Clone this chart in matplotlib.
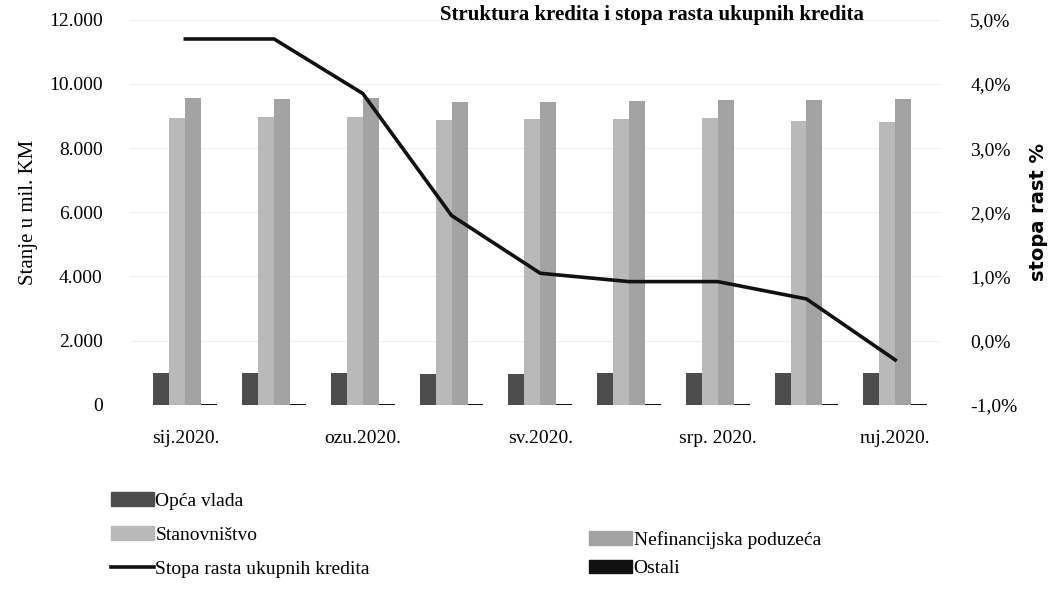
import matplotlib

matplotlib.use('Agg')
import matplotlib.pyplot as plt
from matplotlib.patches import Patch
from matplotlib.lines import Line2D
import numpy as np

plt.rcParams['font.family'] = ['Liberation Serif', 'DejaVu Serif']

months = ['sij.2020.', 'velj.2020.', 'ozu.2020.', 'tra.2020.', 'sv.2020.',
          'lip.2020.', 'srp. 2020.', 'kol.2020.', 'ruj.2020.']
shown_ticks = [0, 2, 4, 6, 8]

opca_vlada = [980, 990, 1000, 960, 970, 990, 1000, 1000, 1000]
stanovnistvo = [8950, 8960, 8980, 8880, 8900, 8910, 8950, 8850, 8800]
nefinancijska = [9550, 9530, 9550, 9430, 9450, 9460, 9500, 9500, 9530]
ostali = [40, 40, 40, 40, 40, 40, 40, 40, 40]
stopa_rasta = [4.7, 4.7, 3.85, 1.95, 1.05, 0.92, 0.92, 0.65, -0.3]

fig = plt.figure(figsize=(10.51, 5.98), dpi=100)
ax = fig.add_axes([0.124, 0.323, 0.77, 0.644])

x = np.arange(len(months))
w = 0.18
c_vlada = '#4d4d4d'
c_stan = '#b9b9b9'
c_nef = '#a3a3a3'
c_ost = '#111111'

ax.bar(x - 1.5 * w, opca_vlada, w, color=c_vlada)
ax.bar(x - 0.5 * w, stanovnistvo, w, color=c_stan)
ax.bar(x + 0.5 * w, nefinancijska, w, color=c_nef)
ax.bar(x + 1.5 * w, ostali, w, color=c_ost)

ax.set_ylim(0, 12000)
ax.set_xlim(-0.62, 8.5)
ax.set_yticks(range(0, 12001, 2000))
ax.set_yticklabels(['0', '2.000', '4.000', '6.000', '8.000', '10.000', '12.000'], fontsize=14)
ax.set_xticks(shown_ticks)
ax.set_xticklabels([months[i] for i in shown_ticks], fontsize=14)
ax.tick_params(length=0, pad=18)
ax.tick_params(axis='y', pad=20)
ax.grid(axis='y', color='#eeeeee', linewidth=0.8)
ax.set_axisbelow(True)
for s in ax.spines.values():
    s.set_visible(False)
ax.set_ylabel('Stanje u mil. KM', fontsize=15, labelpad=8)

ax2 = ax.twinx()
ax2.plot(x, stopa_rasta, color='#111111', linewidth=2.6, zorder=5)
ax2.set_ylim(-1, 5)
ax2.set_yticks(range(-1, 6))
ax2.set_yticklabels([f'{v},0%' for v in range(-1, 6)], fontsize=14)
ax2.tick_params(length=0, pad=22)
for s in ax2.spines.values():
    s.set_visible(False)
ax2.set_ylabel('stopa rast %', fontsize=14, fontweight='bold',
               family=['DejaVu Sans'], labelpad=8)

fig.text(0.62, 0.975, 'Struktura kredita i stopa rasta ukupnih kredita',
         fontsize=15, fontweight='bold', ha='center', va='center')

h_left = [Patch(color=c_vlada), Patch(color=c_stan),
          Line2D([0], [0], color='#111111', linewidth=2.6)]
fig.legend(h_left, ['Opća vlada', 'Stanovništvo', 'Stopa rasta ukupnih kredita'],
           loc='upper left', bbox_to_anchor=(0.098, 0.19), frameon=False,
           fontsize=14, handlelength=2.2, handletextpad=0.1, labelspacing=0.85,
           borderaxespad=0)
h_right = [Patch(color=c_nef), Patch(color=c_ost)]
fig.legend(h_right, ['Nefinancijska poduzeća', 'Ostali'],
           loc='upper left', bbox_to_anchor=(0.553, 0.125), frameon=False,
           fontsize=14, handlelength=2.2, handletextpad=0.1, labelspacing=0.55,
           borderaxespad=0)

fig.savefig('out.png', dpi=100)
